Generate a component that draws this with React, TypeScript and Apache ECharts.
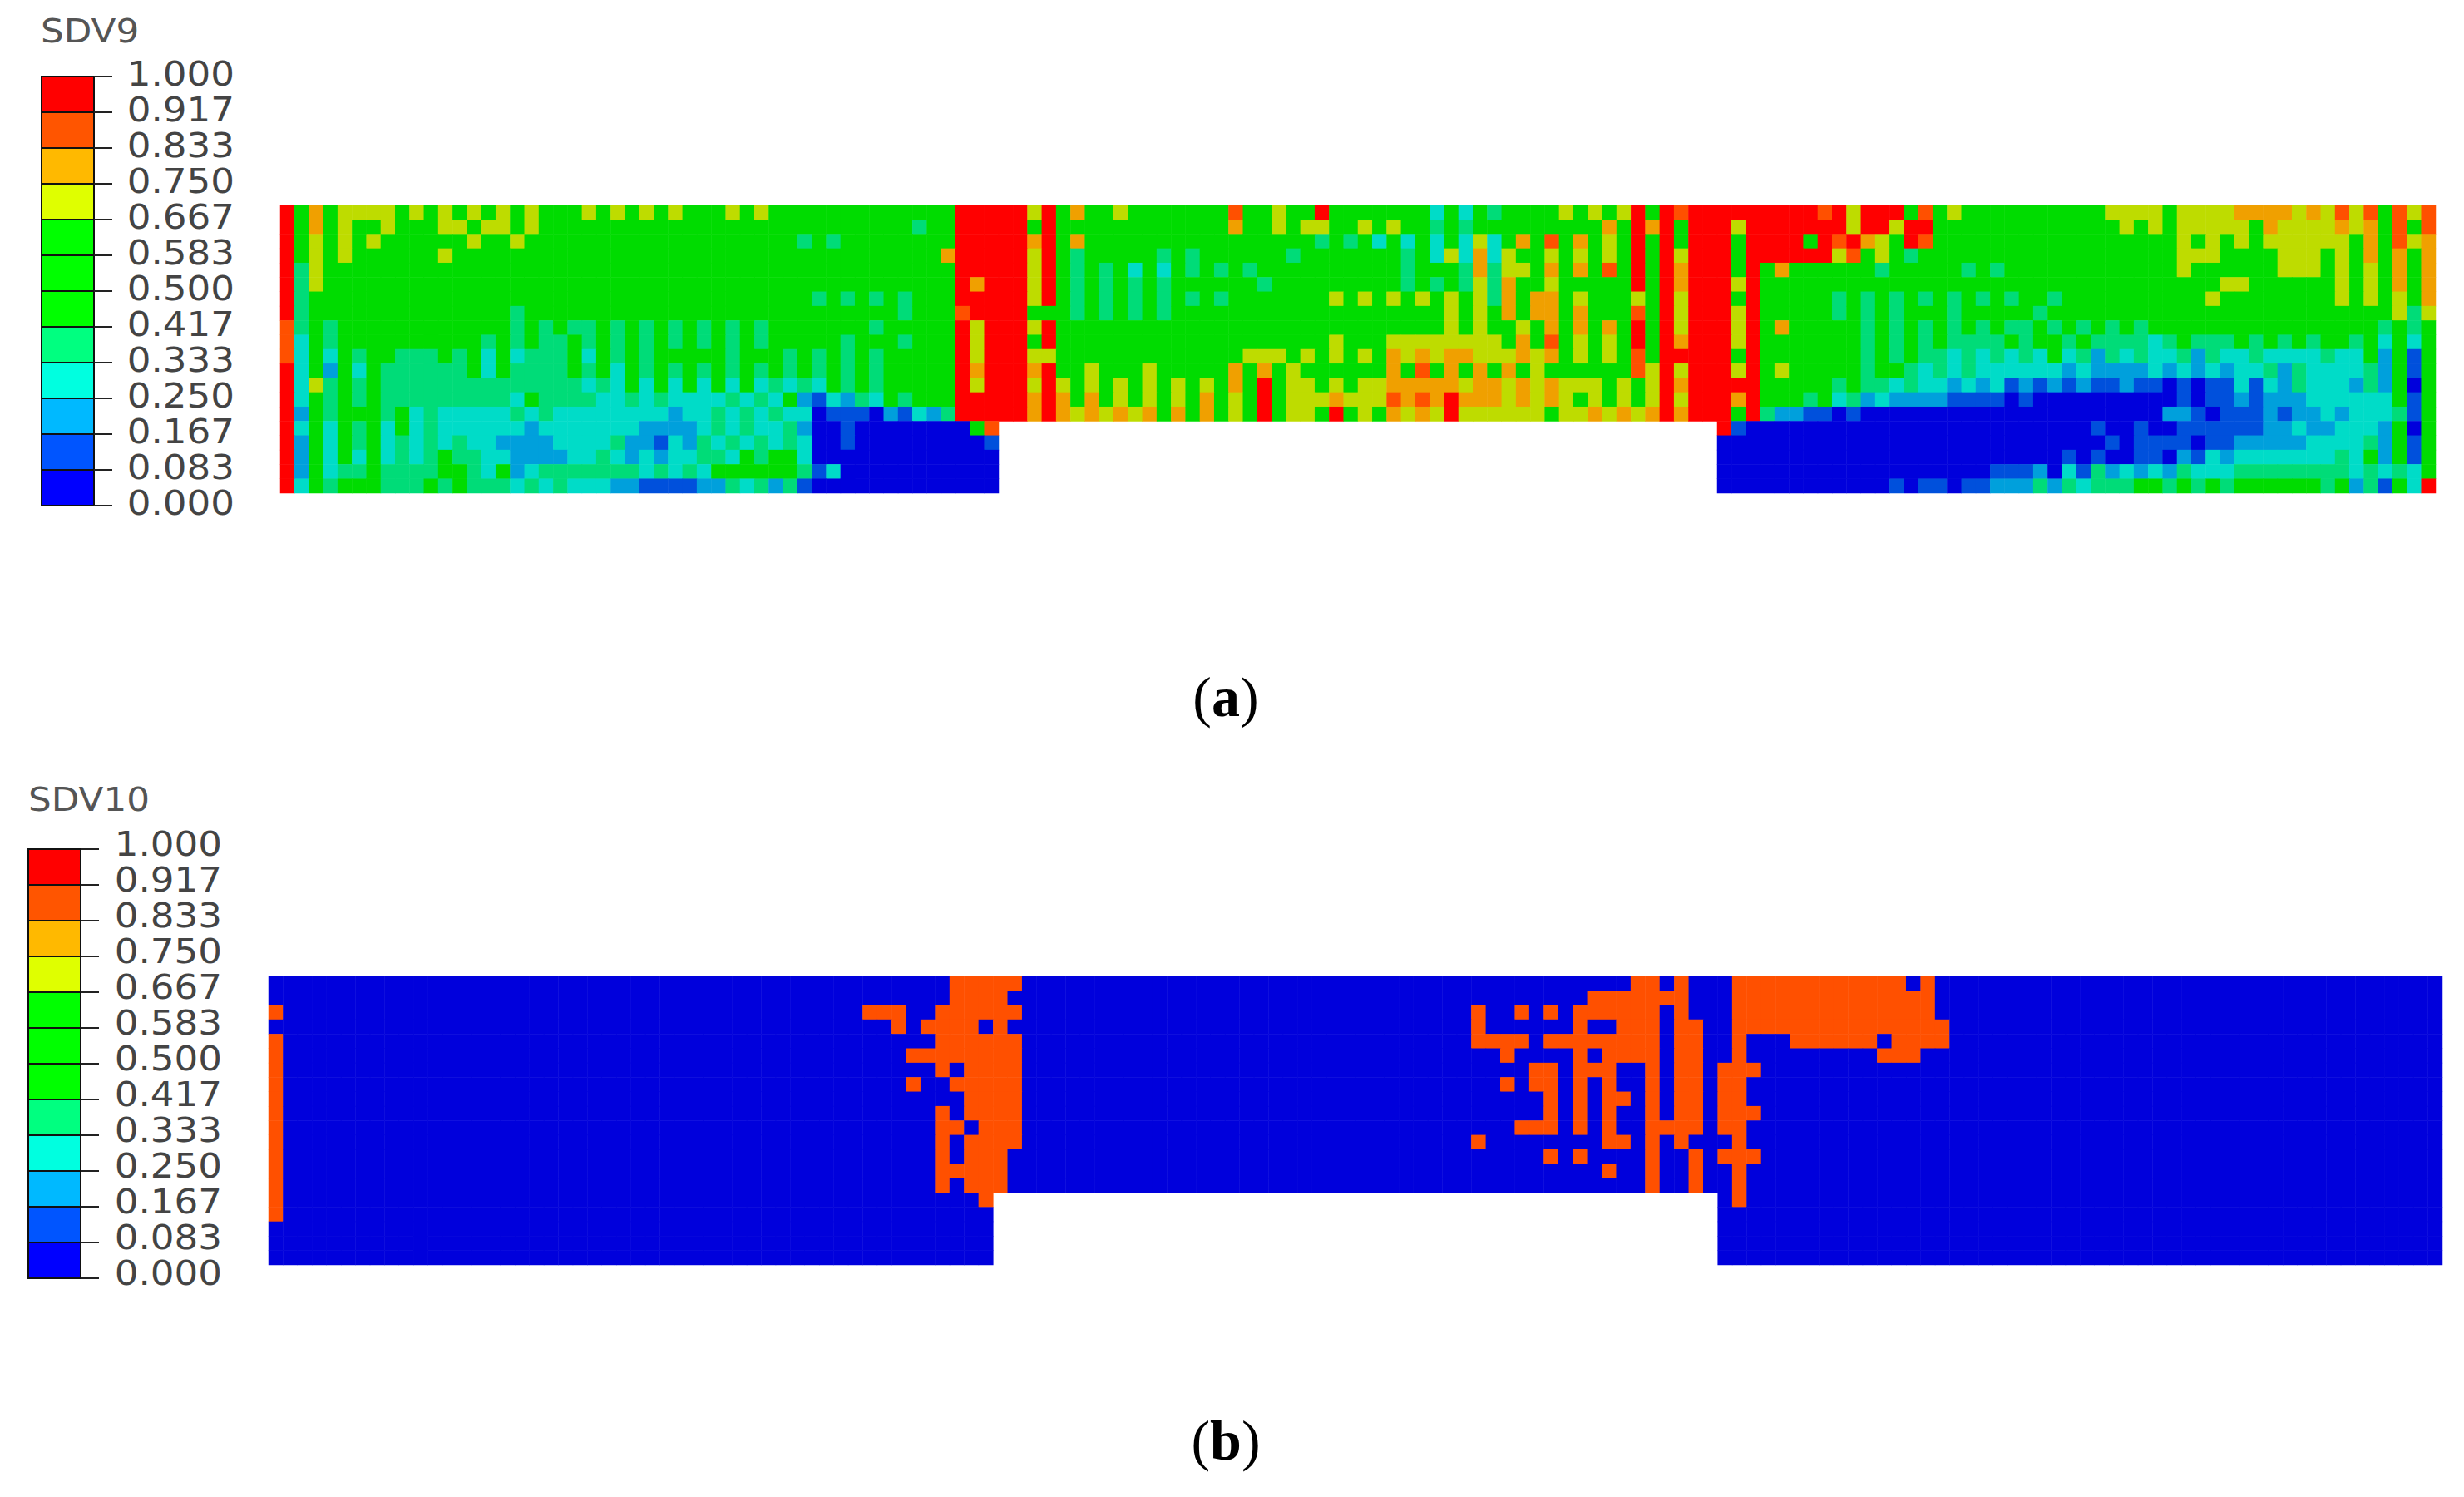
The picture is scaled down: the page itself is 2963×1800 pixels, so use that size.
import React, { useEffect, useRef } from "react";
import * as echarts from "echarts";

const tickLabels = ["1.000","0.917","0.833","0.750","0.667","0.583","0.500","0.417","0.333","0.250","0.167","0.083","0.000"];
const legendColors = ["#ff0000","#ff5500","#ffb900","#dfff00","#00ff00","#00ff00","#00ff00","#00ff80","#00ffe0","#00b9ff","#0055ff","#0000ff"];
// contour fill by band, lowest band first
const bandColors = ["#0000dc","#0050dc","#00a0dc","#00dcc8","#00dc78","#00dc00","#00dc00","#00dc00","#bedc00","#f0a000","#ff5000","#ff0000"];
const bandOfCode: Record<string, number> = { n:0, d:1, b:2, c:3, t:4, g:6, y:8, o:9, r:10, x:11 };

// SDV9 cells, one string per row of the mesh, as run-length tokens (code + repeat); "." = no element
const sdv9Rows = [
 "x g o g y4 g y g y g y g y g y g3 y g y g y g y g3 y  g y g13 x5 y x g o g2 y g5  g2 r g2 y g2 x g7 c g c g t g4 y g y g y x g  x r x9 r x y x3 g r g y g10 y  y3 g y4 o4 y o y r y r g r y r",
 "x g o g y g2 y g3 y2 g y2 g y g14  g12 t g2 x5 g x g10  g2 o g2 y g y2 g2 y g y g2 t g t g9 o g x o  x g x3 y x7 y x2 y x2 g13  y g y g y5 g o y4 o y o g r g r",
 "x g y g y g y g6 y g2 y g15  g4 t g t g8 x5 o x g o g8  g8 t g t g c g c g c g c y c g o g r g o g y g x g  x g x3 g x4 g x r x o y g x r g13  g4 y g y g y g y6 g o g r y o",
 "x g y g y g6 y g20  g14 o x5 y x g t g5 t g t  g6 t g7 t g c y c o c y g2 y g y g y g x g  x y x3 g x6 y r g y g t g14  g4 y3 g4 y3 g y g o g o g o",
 "x t y g29  g15 x5 y x g t g t g c g c g t  g t g t g10 t g3 t o t y2 g o g o g r g x g  x o x3 g x g o g6 t g5 t g t g8  g4 y g6 y3 g y g y g o g o",
 "x t y g29  g15 x o x3 y x g t g t g t g t g2  g4 t g9 t g t g t y t o g2 y g5 x g  x o x3 y x g25  g7 y2 g6 y g y g o g o",
 "x t g30  g5 t g t g t g t g3 x5 y x g t g t g t g t g t  g t g7 y g y g y g y g y g y t o g o2 g y g3 y g  x y x3 g x g5 t g t g t g t g t g t g t g2 t g4  g6 y g8 y g y g y g o",
 "x t g14 t g15  g11 t g3 r x4 g3 t g t g t g t g2  g17 y g y g o g o2 g o g3 r g  x y x3 y x g5 t g t g t g3 t g5 t g5  g19 y t y",
 "r t g t g12 t g t g t2 g t g t g t g t g t  g t g7 t g5 x y x3 y x g10  g17 y g y g2 y g o g o g o g x g  x y x3 y x g o g5 t g t g t g t g t g t2 g t g t g t  g t g16 t g t g",
 "r c g t g10 t g t g t2 g t g t g t g t g t g t  g t g5 t g3 t g3 x y x3 g x g10  g9 y g3 y8 g o g r g y g y g x g  x o x3 y x g7 t g t g t g t4 g t g2 t g t2  t2 c t g t3 g t g t g t g2 t g c g c g",
 "r c g c g t g2 t3 g t g c g c t3 g c g t g t g5 t  g3 t g t g t g t g5 x y x3 y2 g10  g3 y3 g y g y g y g o y o y o2 y3 o y o g y g y g r g  x5 g x g7 t g t g t2 c t c t c t c g c t b t  c t c2 t b t c2 t c4 t c2 g b g d g",
 "x c g b g c g t6 g c g t4 g t g c g t g t g t g t  g t g t g t g t g t g5 x o x3 o x g2 y g3 y g3  g2 o g o g y g6 o g r g o g o g o g y g6 r y  x y x3 y x g y g5 t g2 t c t c t c6 b c b2  b2 c b c b c b c2 t b t c4 t b g d g",
 "x c y t g t g t14 c t c g c g c g c g c  g c t c t c g t g t g5 x y x3 y x y g y g y g y g y g  y g o g x g y2 g y g y2 o5 y o2 y o y o y3 g y g y  x o x5 g5 t g t2 c t c2 b c b c d b d b d b d2  b d2 n d n d2 c d c b t c3 b t b g n g",
 "x c g t g t g t9 c g t4 c2 t c t c4 t  c t c g b d c b t c g t g3 x5 o x o g o g y g y g y g  o g y g x g y3 o y3 r o r o x o3 y o y o y g y g y g y  x y x3 o x g3 t g c t b c b4 d4 n d n6  n4 d n d2 b d b3 c6 g d g",
 "x b g t g3 t g c t c5 t c t c8 b c2 t c  t c t c2 n d3 n b d c b t x5 o x o y o y o y o g o g  o g y g x g y2 g x g y g o y o y x y6 g y2 o y o y o  x o x3 g x t b2 d2 n d n18  n3 b2 d n d3 b d b2 c b c3 t d g",
 "x c g c g t g c g c t c6 b c7 b4 c t c  t c2 t b n2 d n8 g r  .50  x d n24 d n  n d n2 d6 b2 c b2 c3 b g n g",
 "x b g c g t g c t c t c t c2 b4 c4 t b2 d c b t c t  c t c t c n2 d n9 d  .50  n27 d  n d4 n d2 b5 c4 t b g d g",
 "x b g c g c g c t c t g t2 c2 b4 c2 t c b c b c2 t2 c  g t g2 c n13  .50  n24 d n d n  n d2 n b d c b c7 t c g b g d g",
 "x b g c t2 g t4 g2 t c g b c t7 c t c t c g2  g4 t d c n11  .50  n19 d3 b n c d t b  c b c b t c3 t8 c t c t c g",
 "x c g t g3 t3 g t g t3 c t c t c3 b2 d4 b2 t  c t b t d n13  .50  n12 d n d2 n d2 b3 t b t c t2  t g2 t g t g t g6 t g b t d g c x",
];

// SDV10: inclusive column spans of the orange band in each row; every other cell is the lowest band
const sdv10Spans: number[][][] = [
 [[47,51],[94,95],[97,97],[101,112],[114,114]],
 [[47,50],[91,97],[101,114]],
 [[0,0],[41,43],[46,51],[83,83],[86,86],[88,88],[90,95],[97,97],[101,114]],
 [[43,43],[45,48],[50,50],[83,83],[90,90],[93,95],[97,98],[101,115]],
 [[0,0],[46,51],[83,86],[88,95],[97,98],[101,101],[105,110],[112,115]],
 [[0,0],[44,51],[85,85],[90,90],[92,95],[97,98],[101,101],[111,113]],
 [[0,0],[46,46],[48,51],[87,88],[90,92],[95,95],[97,98],[100,102]],
 [[0,0],[44,44],[47,51],[85,85],[87,88],[90,90],[92,92],[95,95],[97,98],[100,101]],
 [[0,0],[48,51],[88,88],[90,90],[92,93],[95,95],[97,98],[100,101]],
 [[0,0],[46,46],[48,51],[88,88],[90,90],[92,92],[95,95],[97,98],[100,102]],
 [[0,0],[46,47],[49,51],[86,88],[90,90],[92,92],[95,98],[100,101]],
 [[0,0],[46,46],[48,51],[83,83],[92,93],[95,95],[97,97],[101,101]],
 [[0,0],[46,46],[48,50],[88,88],[90,90],[95,95],[98,98],[100,102]],
 [[0,0],[46,50],[92,92],[95,95],[98,98],[101,101]],
 [[0,0],[46,46],[48,50],[95,95],[98,98],[101,101]],
 [[0,0],[49,49],[101,101]],
 [[0,0]],
 [],
 [],
 [],
];
const COLS = 150;
const ROWS = 20;
const notchCols = [50, 99];
const notchFirstRow = 15;

const bandValue = (band: number) => (band + 0.5) / 12;

function decodeRow(row: string): string[] {
  const out: string[] = [];
  row.trim().split(/\s+/).forEach((tok) => {
    const n = tok.length > 1 ? parseInt(tok.slice(1), 10) : 1;
    for (let i = 0; i < n; i++) out.push(tok[0]);
  });
  return out;
}

function sdv9Data() {
  const data: number[][] = [];
  sdv9Rows.forEach((row, r) => {
    decodeRow(row).forEach((code, c) => {
      if (code !== "." && c < COLS) data.push([c, r, bandValue(bandOfCode[code])]);
    });
  });
  return data;
}

function sdv10Data() {
  const data: number[][] = [];
  for (let r = 0; r < ROWS; r++) {
    for (let c = 0; c < COLS; c++) {
      if (r >= notchFirstRow && c >= notchCols[0] && c <= notchCols[1]) continue;
      const on = sdv10Spans[r].some(([a, b]) => c >= a && c <= b);
      data.push([c, r, bandValue(on ? 10 : 0)]);
    }
  }
  return data;
}

const FONT = "'DejaVu Sans'";
function legend(name: string, x: number, y: number, w: number, h: number, titleX: number, titleY: number, labelRight: number, labelDy: number) {
  const els: any[] = [];
  const step = h / legendColors.length;
  els.push({ type: "text", x: titleX, y: titleY, scaleX: 1.12, silent: true, style: { text: name, font: `39px ${FONT}`, fill: "#555", align: "left", verticalAlign: "middle" } });
  legendColors.forEach((color, i) => {
    els.push({ type: "rect", shape: { x, y: y + i * step, width: w, height: step }, style: { fill: color, stroke: "#111", lineWidth: 2 }, silent: true });
  });
  tickLabels.forEach((label, i) => {
    const ty = y + i * step;
    els.push({ type: "line", shape: { x1: x + w, y1: ty, x2: x + w + 22, y2: ty }, style: { stroke: "#222", lineWidth: 2 }, silent: true });
    els.push({ type: "text", x: labelRight, y: ty + labelDy, scaleX: 1.13, silent: true, style: { text: label, font: `40px ${FONT}`, fill: "#444", align: "right", verticalAlign: "middle" } });
  });
  return els;
}

function caption(letter: string, cx: number, cy: number) {
  return {
    type: "text", x: cx, y: cy, silent: true,
    style: {
      text: `{p|(}{b|${letter}}{p|)}`, align: "center", verticalAlign: "middle",
      rich: {
        p: { font: "68px 'Liberation Serif'", fill: "#000" },
        b: { font: "bold 68px 'Liberation Serif'", fill: "#000" },
      },
    },
  };
}

const pieces = bandColors.map((color, i) => ({ min: i / 12, max: (i + 1) / 12, color }));
const colIndex = Array.from({ length: COLS }, (_, i) => i);
const rowIndex = Array.from({ length: ROWS }, (_, i) => i);

export default function App() {
  const ref = useRef<HTMLDivElement>(null);
  useEffect(() => {
    document.body.style.margin = "0";
    const chart = echarts.init(ref.current!, undefined, { renderer: "svg" });
    const axis = (data: number[], gridIndex: number, inverse: boolean) => ({
      type: "category" as const, data, gridIndex, inverse, show: false,
    });
    chart.setOption({
      animation: false,
      backgroundColor: "#ffffff",
      grid: [
        { left: 337, top: 247, width: 2592, height: 346 },
        { left: 323, top: 1174, width: 2614, height: 347 },
      ],
      xAxis: [axis(colIndex, 0, false), axis(colIndex, 1, false)],
      yAxis: [axis(rowIndex, 0, true), axis(rowIndex, 1, true)],
      visualMap: [
        { type: "piecewise", show: false, dimension: 2, seriesIndex: 0, pieces },
        { type: "piecewise", show: false, dimension: 2, seriesIndex: 1, pieces },
      ],
      series: [
        { name: "SDV9", type: "heatmap", xAxisIndex: 0, yAxisIndex: 0, data: sdv9Data(), progressive: 0, silent: true, itemStyle: { borderWidth: 0 } },
        { name: "SDV10", type: "heatmap", xAxisIndex: 1, yAxisIndex: 1, data: sdv10Data(), progressive: 0, silent: true, itemStyle: { borderWidth: 0 } },
      ],
      graphic: { elements: [
        ...legend("SDV9", 50, 92, 63, 516, 49, 38, 282, -3),
        ...legend("SDV10", 34, 1021, 63, 516, 34, 962, 267, -6),
        caption("a", 1474, 838),
        caption("b", 1474, 1732),
      ] },
    });
    return () => chart.dispose();
  }, []);
  return <div ref={ref} style={{ position: "absolute", left: 0, top: 0, width: 2963, height: 1800 }} />;
}
